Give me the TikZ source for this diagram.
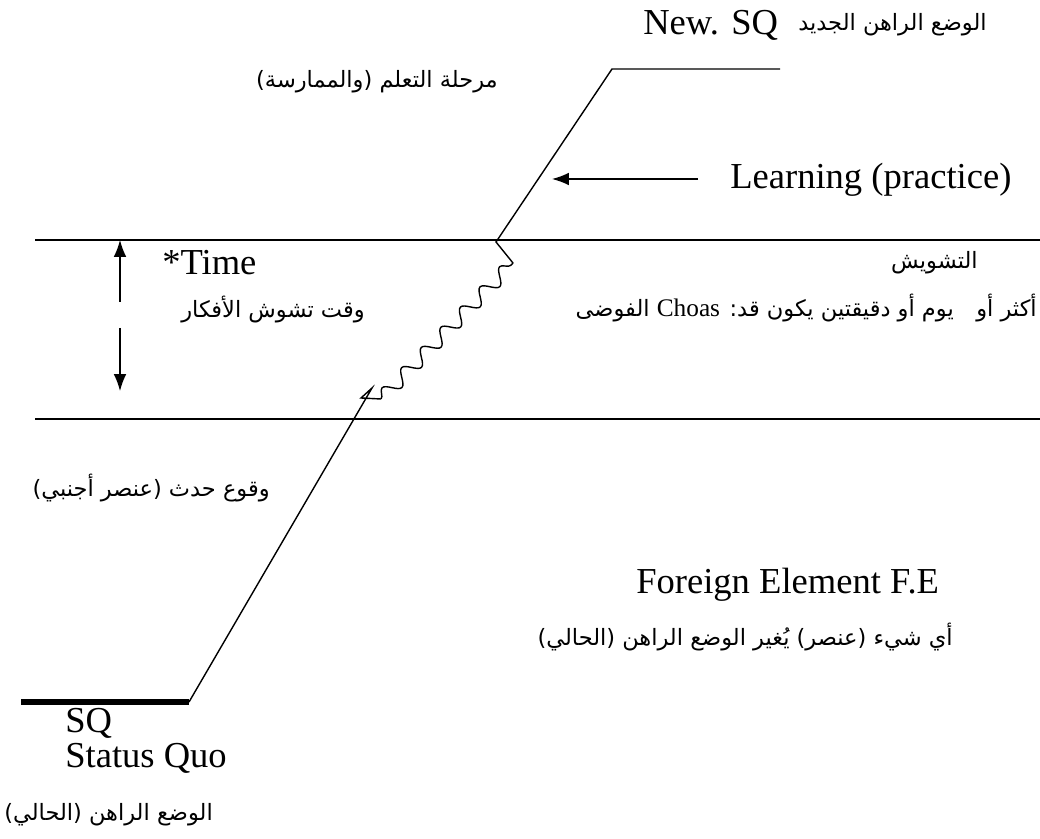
\documentclass[tikz,border=0pt]{standalone}
\usepackage{fontspec}
\setmainfont{Liberation Serif}
\newfontfamily\arabicfont[Script=Arabic]{DejaVu Sans}
\TeXXeTstate=1
\usepackage{tikz}
\usetikzlibrary{arrows.meta,decorations.pathmorphing}
\tikzstyle{lbl}=[inner sep=0pt,font=\fontsize{26}{25}\selectfont]
\tikzstyle{arlbl}=[inner sep=0pt,font=\arabicfont\fontsize{16}{20}\selectfont]
\tikzstyle{line}=[draw,line width=1pt]
\tikzstyle{arrowline}=[draw,line width=1pt,-{Latex[length=12pt,width=9pt]}]

\begin{document}
\begin{tikzpicture}[x=0.025cm,y=-0.025cm]
  \useasboundingbox (0,0) rectangle (1040,839);
  % band of chaos
  \coordinate (topl) at (35,240);
  \coordinate (topr) at (1040,240);
  \coordinate (botl) at (35,419);
  \coordinate (botr) at (1040,419);
  \draw[line] (topl) -- (topr);
  \draw[line] (botl) -- (botr);
  % path from old to new status quo
  \coordinate (sqstart) at (21,702);
  \coordinate (sqend) at (189,702);
  \coordinate (hook) at (372,388);
  \coordinate (hookl) at (361,398);
  \coordinate (wavestart) at (381,399);
  \coordinate (waveend) at (513,263);
  \coordinate (cross) at (496,242);
  \coordinate (newstart) at (612,69);
  \coordinate (newend) at (780,69);
  \draw[line width=4.2pt] (sqstart) -- (sqend);
  \draw[line] (sqend) -- (hook) -- (hookl) -- (wavestart);
  \draw[line,decorate,decoration={snake,amplitude=5pt,segment length=20pt}] (wavestart) -- (waveend);
  \draw[line] (waveend) -- (cross) -- (newstart) -- (newend);
  % time arrows
  \coordinate (upfrom) at (120,302);
  \coordinate (upto) at (120,240);
  \coordinate (downfrom) at (120,328);
  \coordinate (downto) at (120,391);
  \draw[arrowline] (upfrom) -- (upto);
  \draw[arrowline] (downfrom) -- (downto);
  % labels
  \node[lbl,anchor=west] (newsq) at (643,25) {New. SQ};
  \node[arlbl,anchor=east] (newsqar) at (987,25) {\beginR الوضع الراهن الجديد\endR};
  \node[arlbl,anchor=east] (learnar) at (498,82) {\beginR مرحلة التعلم (والممارسة)\endR};
  \node[lbl,anchor=west] (learning) at (730,180) {Learning (practice)};
  \coordinate (learnfrom) at (698,179);
  \coordinate (learnto) at (552,179);
  \draw[arrowline] (learnfrom) -- (learnto);
  \node[lbl,anchor=west] (time) at (162,263) {*Time};
  \node[arlbl,anchor=east] (tashwish) at (978,263) {\beginR التشويش\endR};
  \node[arlbl,anchor=east] (waqt) at (365,310) {\beginR وقت تشوش الأفكار\endR};
  \node[arlbl,anchor=east] (choas) at (1037,308) {\beginR أكثر أو\quad يوم أو دقيقتين يكون قد: \beginL{\rmfamily\fontsize{18}{20}\selectfont Choas}\endL{} الفوضى\endR};
  \node[arlbl,anchor=east] (wuqu) at (270,488) {\beginR وقوع حدث (عنصر أجنبي)\endR};
  \node[lbl,anchor=west] (fe) at (636,585) {Foreign Element F.E};
  \node[arlbl,anchor=east] (fear) at (953,637) {\beginR أي شيء (عنصر) يُغير الوضع الراهن (الحالي)\endR};
  \node[lbl,anchor=north west,align=left] (sq) at (65,708) {SQ\\Status Quo};
  \node[arlbl,anchor=west] (sqar) at (4,815) {\beginR الوضع الراهن (الحالي)\endR};
\end{tikzpicture}
\end{document}
